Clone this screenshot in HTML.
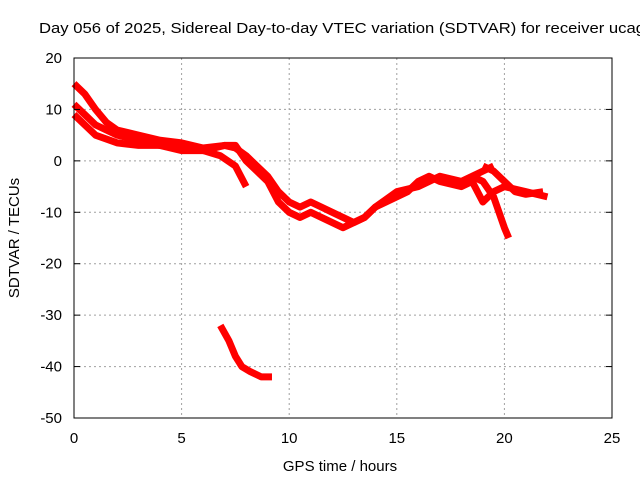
<!DOCTYPE html>
<html><head><meta charset="utf-8"><style>
html,body{margin:0;padding:0;background:#fff;}
svg{display:block;font-family:"Liberation Sans",sans-serif;}
</style></head><body>
<svg id="chart" width="640" height="480">
<text x="39" y="33" font-size="15" fill="#000" textLength="606" lengthAdjust="spacingAndGlyphs">Day 056 of 2025, Sidereal Day-to-day VTEC variation (SDTVAR) for receiver ucag</text>
<text x="340" y="471" font-size="15" text-anchor="middle">GPS time / hours</text>
<text transform="translate(19,238) rotate(-90)" font-size="15" text-anchor="middle">SDTVAR / TECUs</text>
<g id="grid"></g>
<g id="series"></g>
<rect x="74" y="58" width="538" height="360" fill="none" stroke="#000" stroke-width="1"/>
<g id="ticks"></g>
</svg>
<script>
const xTicks=[0,5,10,15,20,25];
const yTicks=[20,10,0,-10,-20,-30,-40,-50];
const s1x=[0,0.5,1,1.5,2,3,4,5,6,7,7.5,8,8.5,9,9.5,10,10.5,11,11.5,12,12.5,13,13.5,14,15,16,17,18,19,19.5];
const s1y=[15,13,10,7.5,6,5,4,3.5,2.5,3,2.5,1,-1,-3,-6,-8,-9,-8,-9,-10,-11,-12,-11,-9,-6,-5,-3,-4,-2,-1];
const s2x=[0,0.5,1,2,3,4,5,6,6.8,7.5,8];
const s2y=[11,9,7,5,4,3,2.5,2,1,-1,-5];
const s3x=[0,0.5,1,2,3,4,5,6,7,7.5,8,8.5,9,9.5,10,10.5,11,12,12.5,13,13.5,14,15,15.5,16,16.5,17,18,18.5,19,19.5,20,21,22];
const s3y=[9,7,5,3.5,3,3,2,2,3,3,0,-2,-4,-8,-10,-11,-10,-12,-13,-12,-11,-9,-7,-6,-4,-3,-4,-5,-4,-8,-6,-5,-6,-7];
const s4x=[18.5,19,19.5,20,20.2];
const s4y=[-3,-4,-7,-13,-15];
const s5x=[19,19.5,20,20.5,21,21.8];
const s5y=[-1,-2,-4,-6,-6.5,-6];
const s6x=[6.8,7.2,7.5,7.8,8.2,8.7,9.2];
const s6y=[-32,-35,-38,-40,-41,-42,-42];
const X=v=>74+v*538/25;
const Y=v=>58+(20-v)*360/70;
const NS="http://www.w3.org/2000/svg";
const grid=document.getElementById('grid'),ticks=document.getElementById('ticks'),ser=document.getElementById('series');
function mk(tag,attrs,parent){const e=document.createElementNS(NS,tag);for(const k in attrs)e.setAttribute(k,attrs[k]);parent.appendChild(e);return e;}
xTicks.forEach(t=>{
  if(t>0&&t<25){const g=mk('line',{x1:X(t),x2:X(t),y1:58,y2:418,stroke:'#a0a0a0','stroke-dasharray':'2,3'},grid);
  
  }
  const l=mk('text',{x:X(t),y:443,'font-size':15,'text-anchor':'middle'},ticks);l.textContent=t;
  
  
});
yTicks.forEach(t=>{
  if(t<20&&t>-50){const g=mk('line',{x1:74,x2:612,y1:Y(t),y2:Y(t),stroke:'#a0a0a0','stroke-dasharray':'2,3'},grid);
  
  
  mk('line',{x1:74,x2:80,y1:Y(t),y2:Y(t),stroke:'#000'},ticks);mk('line',{x1:606,x2:612,y1:Y(t),y2:Y(t),stroke:'#000'},ticks);}
  const l=mk('text',{x:62,y:Y(t)+5,'font-size':15,'text-anchor':'end'},ticks);l.textContent=t;
  
  
});
[[s1x,s1y],[s2x,s2y],[s3x,s3y],[s4x,s4y],[s5x,s5y],[s6x,s6y]].forEach((s,i)=>{
  const pts=s[0].map((v,j)=>X(v)+','+Y(s[1][j])).join(' ');
  const p=mk('polyline',{points:pts,fill:'none',stroke:'#ff0000','stroke-width':7,'stroke-linejoin':'round'},ser);
  
  
});
</script>
</body></html>
